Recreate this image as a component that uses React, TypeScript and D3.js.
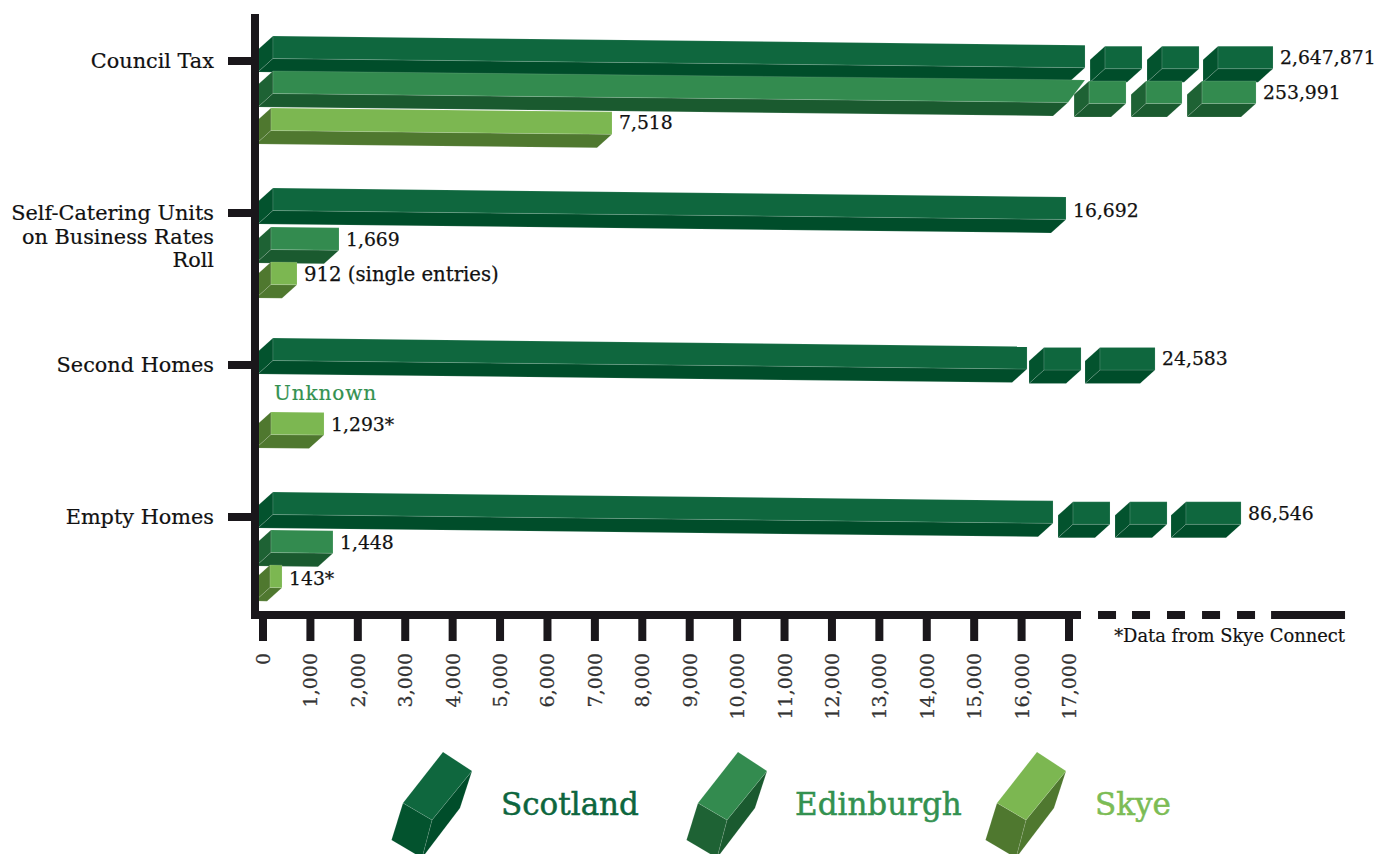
import React from "react";
import * as d3 from "d3";

// ---- data (all numbers are in the units of the chart's value axis) ----
const categories = ["Council Tax", "Self-Catering Units on Business Rates Roll", "Second Homes", "Empty Homes"];
const categoryLines = [["Council Tax"], ["Self-Catering Units", "on Business Rates", "Roll"], ["Second Homes"], ["Empty Homes"]];
const seriesNames = ["Scotland", "Edinburgh", "Skye"];
const axisTicks = [0, 1000, 2000, 3000, 4000, 5000, 6000, 7000, 8000, 9000, 10000, 11000, 12000, 13000, 14000, 15000, 16000, 17000];
const brokenAxisDashes = [[17612, 17992], [18329, 18709], [19067, 19447], [19806, 20186], [20544, 20924], [21262, 22822]];

const scotlandLabels = ["2,647,871", "16,692", "24,583", "86,546"];
const edinburghLabels = ["253,991", "1,669", null, "1,448"];
const skyeLabels = ["7,518", "912 (single entries)", "1,293*", "143*"];

// each piece: [start, end, optional top-edge end]; the later pieces sit past the axis break
const scotlandPieces = [
  [[211, 17338], [17760, 18540], [18962, 19743], [20143, 21303]],
  [[211, 16937]],
  [[211, 16115], [16473, 17254], [17654, 18815]],
  [[211, 16663], [17085, 17865], [18287, 19068], [19468, 20629]],
];
const edinburghPieces = [
  [[211, 16979, 17338], [17423, 18203], [18625, 19384], [19806, 20945]],
  [[169, 1603]],
  null,
  [[169, 1476]],
];
const skyePieces = [
  [[169, 7361]],
  [[169, 717]],
  [[169, 1287]],
  [[148, 401]],
];

const seriesPieces = [scotlandPieces, edinburghPieces, skyePieces];
const seriesLabels = [scotlandLabels, edinburghLabels, skyeLabels];

// ---- styles and layout ----
const FONT = "'DejaVu Serif', serif";
const INK = "#1a171b";
const palette = [
  { front: "#0f673e", bottom: "#004d2a", side: "#03532e", text: "#0d663e" },
  { front: "#338b4f", bottom: "#1a5a2f", side: "#1e6234", text: "#339150" },
  { front: "#7cb751", bottom: "#4f782f", side: "#4f782f", text: "#7cbc55" },
];
const BAR_H = 22.5;
const DEPTH_X = 15;
const DEPTH_Y = 13.5;
const SLOPE = 0.0113;
const rowNudge = [[0, -2, -2], [0, 2, 0], [-2, 0, -2], [0, 1, -1]];
const labelNudge = [[-1, 0, -1], [1.5, 0, 0], [-1, 0, 0], [0, 0, 1]];

const x = d3.scaleLinear().domain([0, 17000]).range([263, 1069]);
const groupY = d3.scalePoint<string>().domain(categories).range([36, 492]);
const rowY = d3.scalePoint<string>().domain(seriesNames).range([0, 74]);
const fmt = d3.format(",");
const pts = (p: number[][]) => p.map((q) => q.join(",")).join(" ");
const edge = "rgba(255,255,255,0.18)";

function Block({ x0, x1, xTop, y0, y1, c }: any) {
  const yb0 = y0 + BAR_H;
  const yb1 = y1 + BAR_H;
  const top = xTop ?? x1;
  return (
    <g stroke={edge} strokeWidth={0.7} strokeLinejoin="round">
      <polygon fill={c.side} points={pts([[x0, y0], [x0 - DEPTH_X, y0 + DEPTH_Y], [x0 - DEPTH_X, yb0 + DEPTH_Y], [x0, yb0]])} />
      <polygon fill={c.bottom} points={pts([[x0, yb0], [x1, yb1], [x1 - DEPTH_X, yb1 + DEPTH_Y], [x0 - DEPTH_X, yb0 + DEPTH_Y]])} />
      <polygon fill={c.front} points={pts([[x0, y0], [top, y1], [x1, yb1], [x0, yb0]])} />
    </g>
  );
}

function Bars({ si }: { si: number }) {
  const c = palette[si];
  return (
    <g>
      {seriesPieces[si].map((pieces, gi) => {
        if (!pieces) return null;
        const yTop = groupY(categories[gi])! + rowY(seriesNames[si])! + rowNudge[gi][si];
        const x0 = x(pieces[0][0]);
        const mainEnd = x(pieces[0][1]);
        const yEnd = yTop + SLOPE * (mainEnd - x0);
        const last = pieces[pieces.length - 1];
        const labelY = pieces.length > 1 ? yEnd + 1 : yEnd;
        const label = seriesLabels[si][gi];
        return (
          <g key={gi}>
            <Block x0={x0} x1={mainEnd} xTop={pieces[0][2] !== undefined ? x(pieces[0][2]) : undefined} y0={yTop} y1={yEnd} c={c} />
            {pieces.slice(1).map((p, i) => (
              <Block key={i} x0={x(p[0])} x1={x(p[1])} y0={yEnd + 1} y1={yEnd + 1} c={c} />
            ))}
            {label && (
              <text x={x(last[1]) + 7} y={labelY + 18.5 + labelNudge[gi][si]} fontSize={/[a-z]/.test(label) ? 19.7 : 18.8} fill="#111" stroke="#111" strokeWidth={0.25} fontFamily={FONT}>{label}</text>
            )}
          </g>
        );
      })}
    </g>
  );
}

const legendOffsets = [0, 295, 594];
const legendTextX = [501, 795, 1095];

function LegendGlyph({ c, dx }: any) {
  const a = [443, 752], b = [472, 771], m = [432, 820], l = [403, 803];
  const bl = [391.5, 840], bm = [422, 858], r = [460, 808];
  return (
    <g transform={`translate(${dx},0)`} stroke={edge} strokeWidth={0.6}>
      <polygon fill={c.bottom} points={pts([b, r, bm, m])} />
      <polygon fill={c.side} points={pts([l, m, bm, bl])} />
      <polygon fill={c.front} points={pts([a, b, m, l])} />
    </g>
  );
}

export default function App() {
  return (
    <svg width={1378} height={854} style={{ position: "absolute", left: 0, top: 0, display: "block", background: "#fff" }}>
      {[0, 1, 2].map((si) => <Bars key={si} si={si} />)}

      <text x={274} y={400} fontSize={20} letterSpacing={0.9} fill={palette[1].text} stroke={palette[1].text} strokeWidth={0.2} fontFamily={FONT}>Unknown</text>

      {/* value axis */}
      <rect x={251} y={14} width={8} height={605} fill={INK} />
      <rect x={251} y={611} width={x(17000) + 12 - 251} height={8} fill={INK} />
      {brokenAxisDashes.map((d, i) => (
        <rect key={i} x={x(d[0])} y={611} width={x(d[1]) - x(d[0])} height={8} fill={INK} />
      ))}
      {axisTicks.map((t) => (
        <g key={t}>
          <rect x={x(t) - 4} y={619} width={8} height={22} fill={INK} />
          <text transform={`translate(${x(t) + 7},653) rotate(-90)`} textAnchor="end" fontSize={19} fill="#333" stroke="#333" strokeWidth={0.25} fontFamily={FONT}>{fmt(t)}</text>
        </g>
      ))}

      {/* category axis */}
      {categories.map((cat, gi) => {
        const yc = groupY(cat)! + 25;
        const lines = categoryLines[gi];
        return (
          <g key={cat}>
            <rect x={228} y={yc - 4} width={24} height={8} fill={INK} />
            {lines.map((ln, i) => (
              <text key={i} x={214} y={yc + 7 + i * 23.5} textAnchor="end" fontSize={20.8} fill="#111" stroke="#111" strokeWidth={0.2} fontFamily={FONT}>{ln}</text>
            ))}
          </g>
        );
      })}

      <text x={1345} y={642} textAnchor="end" fontSize={17.9} fill="#111" stroke="#111" strokeWidth={0.2} fontFamily={FONT}>*Data from Skye Connect</text>

      {/* legend */}
      {seriesNames.map((s, i) => (
        <g key={s}>
          <LegendGlyph c={palette[i]} dx={legendOffsets[i]} />
          <text x={legendTextX[i]} y={815} fontSize={31} fill={palette[i].text} stroke={palette[i].text} strokeWidth={0.5} fontFamily={FONT}>{s}</text>
        </g>
      ))}
    </svg>
  );
}
